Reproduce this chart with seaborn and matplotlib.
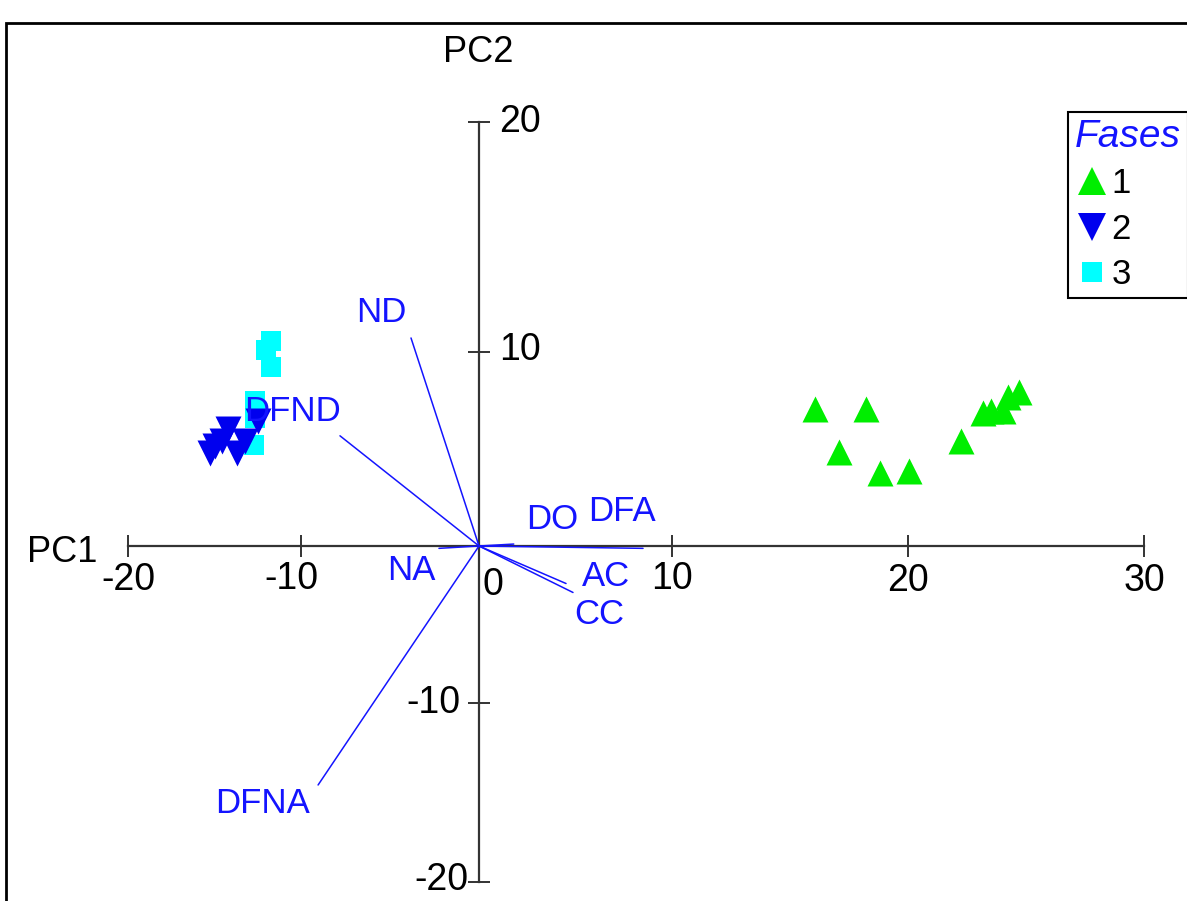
import numpy as np
import pandas as pd
import matplotlib
matplotlib.use("Agg")
import matplotlib.pyplot as plt
import seaborn as sns
from matplotlib.lines import Line2D
from matplotlib.patches import Rectangle

# ---------------- data ----------------
fase1_pc1 = [16.06, 18.22, 17.08, 18.81, 20.04, 22.25, 23.18, 23.52, 24.03, 24.24, 24.70]
fase1_pc2 = [7.08, 7.08, 4.84, 3.75, 3.85, 5.42, 6.88, 6.98, 6.98, 7.66, 7.92]

fase2_pc1 = [-15.26, -14.57, -14.22, -13.70, -13.24, -12.49, -14.97]
fase2_pc2 = [4.79, 5.42, 6.04, 4.79, 5.42, 6.46, 5.16]

fase3_pc1 = [-11.73, -12.02, -11.73, -12.66, -12.66, -12.72]
fase3_pc2 = [10.48, 10.09, 9.22, 7.45, 6.61, 5.21]

var_names = ["ND", "DFND", "NA", "DO", "DFA", "AC", "CC", "DFNA"]
var_pc1 = [-3.82, -7.81, -2.25, 1.80, 8.50, 4.51, 4.87, -9.04]
var_pc2 = [10.61, 5.68, -0.15, 0.10, -0.15, -2.39, -2.96, -14.58]
lab_pc1 = [-5.51, -10.52, -3.82, 3.78, 7.41, 6.58, 6.22, -12.20]
lab_pc2 = [11.70, 6.93, -1.57, 1.35, 1.77, -1.95, -4.34, -15.64]

x_ticks = [-20, -10, 0, 10, 20, 30]
y_ticks = [-20, -10, 0, 10, 20]
fases = ["1", "2", "3"]

# ---------------- scale knots (axis geometry of the original) ----------------
x_knot_px = [128, 301, 479, 672, 908, 1144]
y_knot_px = [19, 198, 355, 549, 779]  # from bottom


def piecewise(k_data, k_px):
    kd = np.asarray(k_data, float)
    kp = np.asarray(k_px, float)
    s0 = (kp[1] - kp[0]) / (kd[1] - kd[0])
    s1 = (kp[-1] - kp[-2]) / (kd[-1] - kd[-2])

    def fwd(v):
        v = np.asarray(v, float)
        out = np.interp(v, kd, kp)
        out = np.where(v < kd[0], kp[0] + (v - kd[0]) * s0, out)
        out = np.where(v > kd[-1], kp[-1] + (v - kd[-1]) * s1, out)
        return out

    def inv(p):
        p = np.asarray(p, float)
        out = np.interp(p, kp, kd)
        out = np.where(p < kp[0], kd[0] + (p - kp[0]) / s0, out)
        out = np.where(p > kp[-1], kd[-1] + (p - kp[-1]) / s1, out)
        return out

    return fwd, inv


fx, ix = piecewise(x_ticks, x_knot_px)
fy, iy = piecewise(y_ticks, y_knot_px)

# ---------------- style ----------------
sns.set_theme(style="white")
plt.rcParams["font.family"] = ["Liberation Sans", "DejaVu Sans"]
plt.rcParams["text.color"] = "black"

W, H = 1187, 901
fig = plt.figure(figsize=(W / 100, H / 100), dpi=100)
fig.patch.set_facecolor("white")
ax = fig.add_axes([0, 0, 1, 1])
ax.set_xscale("function", functions=(fx, ix))
ax.set_yscale("function", functions=(fy, iy))
ax.set_xlim(float(ix(0)), float(ix(W)))
ax.set_ylim(float(iy(0)), float(iy(H)))
ax.patch.set_alpha(0)

blue = "#1414ff"

# loadings vectors
for n, vx, vy, lx, ly in zip(var_names, var_pc1, var_pc2, lab_pc1, lab_pc2):
    ax.plot([0, vx], [0, vy], color=blue, lw=1.1, zorder=2)
    ax.text(lx, ly, n, color=blue, fontsize=25, ha="center", va="center", zorder=4)

# scores
df1 = pd.DataFrame({"PC1": fase1_pc1, "PC2": fase1_pc2})
df2 = pd.DataFrame({"PC1": fase2_pc1, "PC2": fase2_pc2})
df3 = pd.DataFrame({"PC1": fase3_pc1, "PC2": fase3_pc2})
c1, c2, c3 = "#00ee00", "#0000ee", "#00ffff"
sns.scatterplot(data=df3, x="PC1", y="PC2", marker="s", s=220, color=c3, linewidth=0, ax=ax, zorder=3, legend=False)
sns.scatterplot(data=df2, x="PC1", y="PC2", marker="v", s=350, color=c2, linewidth=0, ax=ax, zorder=3, legend=False)
sns.scatterplot(data=df1, x="PC1", y="PC2", marker="^", s=350, color=c1, linewidth=0, ax=ax, zorder=3, legend=False)
ax.set_xlabel("")
ax.set_ylabel("")

# axes through origin
for s in ["top", "right"]:
    ax.spines[s].set_visible(False)
ax.spines["left"].set_position(("data", 0))
ax.spines["bottom"].set_position(("data", 0))
ax.spines["bottom"].set_bounds(-20, 30)
ax.spines["left"].set_bounds(-20, 20)
for s in ["left", "bottom"]:
    ax.spines[s].set_color("#333333")
    ax.spines[s].set_linewidth(1.6)
    ax.spines[s].set_zorder(1)
ax.set_xticks([t for t in x_ticks if t != 0])
ax.set_yticks([t for t in y_ticks if t != 0])
ax.xaxis.set_minor_locator(matplotlib.ticker.NullLocator())
ax.yaxis.set_minor_locator(matplotlib.ticker.NullLocator())
ax.tick_params(axis="both", direction="inout", length=16, width=1.4, color="#333333",
               labelbottom=False, labelleft=False, bottom=True, left=True)

# tick labels
x_off = {-20: (0, -34), -10: (-10, -33), 0: (14, -39), 10: (0, -33), 20: (0, -35), 30: (0, -35)}
for t in x_ticks:
    dx, dy = x_off[t]
    ax.annotate(str(t), (t, 0), xytext=(dx, dy), textcoords="offset pixels",
                ha="center", va="center", fontsize=27, color="black")
y_off = {20: (41, 0), 10: (41, 2), -10: (-46, 0), -20: (-38, 2)}
for t in y_ticks:
    if t == 0:
        continue
    dx, dy = y_off[t]
    ax.annotate(str(t), (0, t), xytext=(dx, dy), textcoords="offset pixels",
                ha="center", va="center", fontsize=27, color="black")

# axis titles
fig.text(62 / W, 1 - 553 / H, "PC1", fontsize=26, ha="center", va="center", color="black")
fig.text(478 / W, 1 - 53 / H, "PC2", fontsize=26, ha="center", va="center", color="black")

# legend
handles = [
    Line2D([], [], marker="^", color=c1, linestyle="none", markersize=20, markeredgewidth=0),
    Line2D([], [], marker="v", color=c2, linestyle="none", markersize=20, markeredgewidth=0),
    Line2D([], [], marker="s", color=c3, linestyle="none", markersize=15, markeredgewidth=0),
]
leg = ax.legend(handles, fases, title="Fases", loc="upper left",
                bbox_to_anchor=(1068 / W, 1 - 112 / H), bbox_transform=fig.transFigure,
                frameon=True, fancybox=False, framealpha=1, edgecolor="black",
                fontsize=25, borderpad=0.2, labelspacing=0.36, handletextpad=0.05,
                handlelength=1.0, borderaxespad=0)
leg.get_frame().set_linewidth(1.5)
for txt in leg.get_texts():
    txt.set_color("black")
t = leg.get_title()
t.set_fontstyle("italic")
t.set_color(blue)
t.set_fontsize(28)
leg._legend_box.align = "left"

# outer frame
fig.add_artist(Rectangle((6 / W, -0.1), 1.2, 1.1 - 23 / H, transform=fig.transFigure,
                         fill=False, ec="black", lw=2))

fig.savefig("out.png", dpi=100)
